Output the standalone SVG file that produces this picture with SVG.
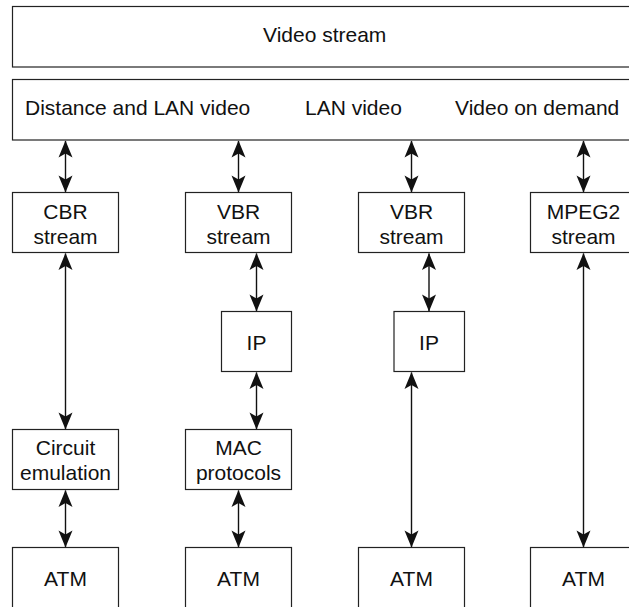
<svg xmlns="http://www.w3.org/2000/svg" width="629" height="607" viewBox="0 0 629 607">
  <style>
    .box { fill: #ffffff; stroke: #222222; stroke-width: 1.2; }
    .t { font-family: "Liberation Sans", Arial, sans-serif; font-size: 21px; fill: #111111; }
    .c { text-anchor: middle; }
    .conn { stroke: #111111; stroke-width: 1.4; fill: none; marker-end: url(#ah); }
    .dbl { marker-start: url(#ah); }
  </style>
  <defs>
    <marker id="ah" markerUnits="userSpaceOnUse" markerWidth="19" markerHeight="16" viewBox="-18 -8 19 16" refX="0" refY="0" orient="auto-start-reverse">
      <path d="M0.5,0 L-16.5,-7 L-12.5,0 L-16.5,7 Z" fill="#111111"/>
    </marker>
  </defs>
  <rect width="629" height="607" fill="#ffffff"/>

  <g id="video-stream">
    <rect class="box" x="12.5" y="6.5" width="624" height="60.5"/>
    <text class="t" x="263" y="42">Video stream</text>
  </g>
  <g id="applications">
    <rect class="box" x="12.5" y="79.5" width="624" height="60.5"/>
    <text class="t" x="25" y="115">Distance and LAN video</text>
    <text class="t" x="305" y="115">LAN video</text>
    <text class="t" x="455" y="115">Video on demand</text>
  </g>

  <g id="cbr-stream">
    <rect class="box" x="12.5" y="192.5" width="106" height="60"/>
    <text class="t c" x="65.5" y="219">CBR</text>
    <text class="t c" x="65.5" y="243.5">stream</text>
  </g>
  <g id="vbr-stream-1">
    <rect class="box" x="185.5" y="192.5" width="106" height="60"/>
    <text class="t c" x="238.5" y="219">VBR</text>
    <text class="t c" x="238.5" y="243.5">stream</text>
  </g>
  <g id="vbr-stream-2">
    <rect class="box" x="358.5" y="192.5" width="106" height="60"/>
    <text class="t c" x="411.5" y="219">VBR</text>
    <text class="t c" x="411.5" y="243.5">stream</text>
  </g>
  <g id="mpeg2-stream">
    <rect class="box" x="530.5" y="192.5" width="106" height="60"/>
    <text class="t c" x="583.5" y="219">MPEG2</text>
    <text class="t c" x="583.5" y="243.5">stream</text>
  </g>

  <g id="ip-1">
    <rect class="box" x="221.5" y="311.5" width="70" height="60"/>
    <text class="t c" x="256.5" y="350">IP</text>
  </g>
  <g id="ip-2">
    <rect class="box" x="394" y="311.5" width="70.5" height="60"/>
    <text class="t c" x="429" y="350">IP</text>
  </g>

  <g id="circuit-emulation">
    <rect class="box" x="12.5" y="429.5" width="106" height="60"/>
    <text class="t c" x="65.5" y="455">Circuit</text>
    <text class="t c" x="65.5" y="480">emulation</text>
  </g>
  <g id="mac-protocols">
    <rect class="box" x="185.5" y="429.5" width="106" height="60"/>
    <text class="t c" x="238.5" y="455">MAC</text>
    <text class="t c" x="238.5" y="480">protocols</text>
  </g>

  <g id="atm-1">
    <rect class="box" x="12.5" y="547.5" width="106" height="75"/>
    <text class="t c" x="65.5" y="586">ATM</text>
  </g>
  <g id="atm-2">
    <rect class="box" x="185.5" y="547.5" width="106" height="75"/>
    <text class="t c" x="238.5" y="586">ATM</text>
  </g>
  <g id="atm-3">
    <rect class="box" x="358.5" y="547.5" width="106" height="75"/>
    <text class="t c" x="411.5" y="586">ATM</text>
  </g>
  <g id="atm-4">
    <rect class="box" x="530.5" y="547.5" width="106" height="75"/>
    <text class="t c" x="583.5" y="586">ATM</text>
  </g>

  <g id="connectors">
    <line class="conn dbl" x1="65.5" y1="141" x2="65.5" y2="192"/>
    <line class="conn dbl" x1="238.5" y1="141" x2="238.5" y2="192"/>
    <line class="conn dbl" x1="411.5" y1="141" x2="411.5" y2="192"/>
    <line class="conn dbl" x1="583.5" y1="141" x2="583.5" y2="192"/>

    <line class="conn dbl" x1="65.5" y1="253.5" x2="65.5" y2="429"/>
    <line class="conn dbl" x1="256.5" y1="253.5" x2="256.5" y2="311"/>
    <line class="conn dbl" x1="429" y1="253.5" x2="429" y2="311"/>
    <line class="conn dbl" x1="583.5" y1="253.5" x2="583.5" y2="547"/>

    <line class="conn dbl" x1="256.5" y1="372.5" x2="256.5" y2="429"/>
    <line class="conn dbl" x1="411.5" y1="372.5" x2="411.5" y2="547"/>

    <line class="conn dbl" x1="65.5" y1="490.5" x2="65.5" y2="547"/>
    <line class="conn dbl" x1="238.5" y1="490.5" x2="238.5" y2="547"/>
  </g>
</svg>
